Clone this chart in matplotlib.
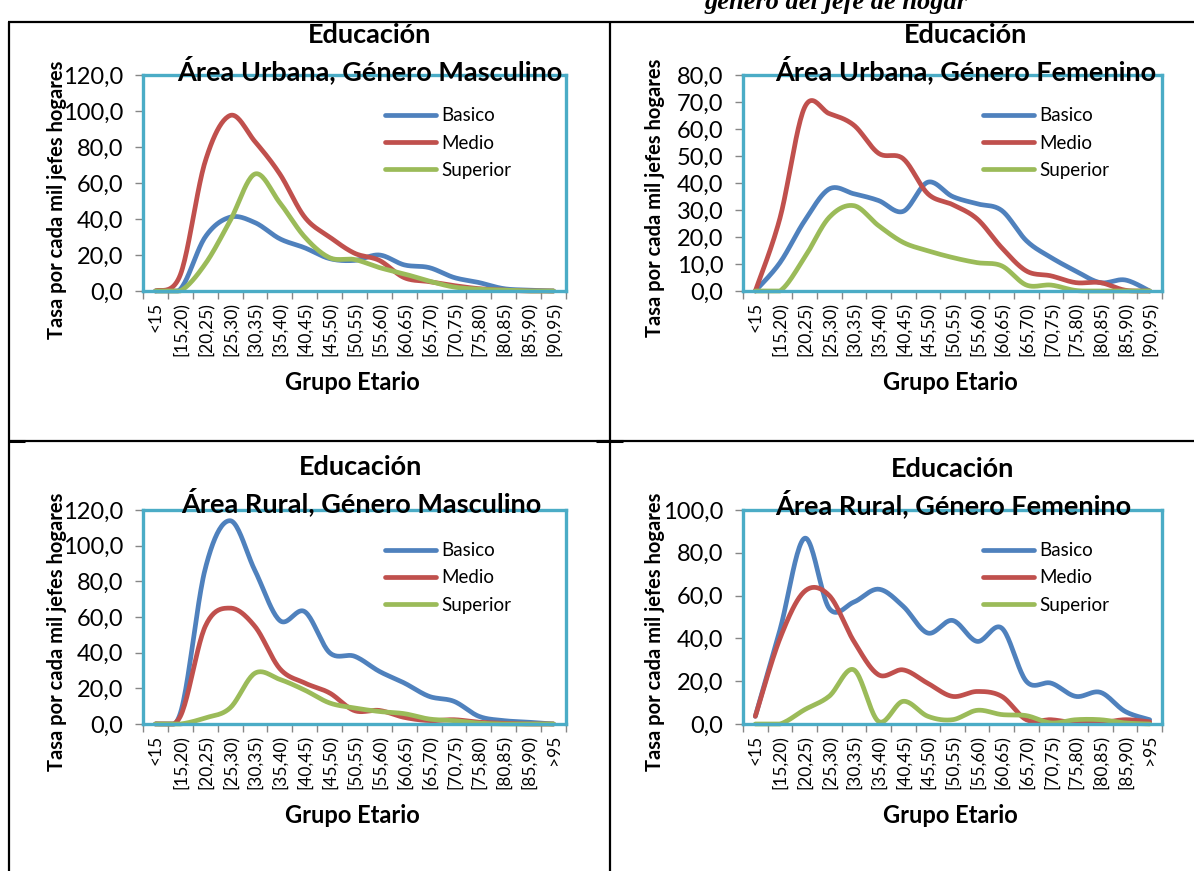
import numpy as np
import matplotlib
matplotlib.use("Agg")
import matplotlib.pyplot as plt
from matplotlib.lines import Line2D

W, H = 1194, 871

grupos_urbano = ['<15', '[15,20)', '[20,25)', '[25,30)', '[30,35)', '[35,40)',
                 '[40,45)', '[45,50)', '[50,55)', '[55,60)', '[60,65)', '[65,70)',
                 '[70,75)', '[75,80)', '[80,85)', '[85,90)', '[90,95)']
grupos_rural = grupos_urbano[:-1] + ['>95']

series_names = ['Basico', 'Medio', 'Superior']

# Urbana, masculino
um_basico = [0, 1, 30, 41, 38, 29, 24, 18, 17, 20, 14.5, 13, 7.5, 4.7, 1.3, 0.5, 0]
um_medio = [0, 9, 72, 97.5, 83, 65, 41, 30, 21, 17, 7.4, 5.2, 3, 1.3, 0.5, 0, 0]
um_superior = [0, 0, 15, 39, 65, 49, 30, 18.5, 17.5, 13, 9.5, 5.5, 2.2, 1, 0.5, 0, 0]

# Urbana, femenino
uf_basico = [0, 10.5, 26, 37.8, 36, 33.5, 29.5, 40.3, 35, 32.3, 29.8, 18.6, 12.4, 7.4, 3.1, 4.1, 0]
uf_medio = [0, 27, 68, 65.7, 61.4, 51, 49, 36, 32, 26.7, 16, 7.4, 5.6, 3.1, 3.1, 0.3, 0]
uf_superior = [0, 0, 12.4, 27.3, 31.6, 24.2, 18, 14.9, 12.4, 10.5, 9.3, 2.2, 2.2, 0.2, 0, 0, 0]

# Rural, masculino
rm_basico = [0, 6, 87, 114, 86, 58, 63, 40, 38, 29.5, 23, 15.5, 12.7, 4.3, 1.9, 1, 0]
rm_medio = [0, 4.3, 54.7, 65, 54.7, 31, 23, 17.4, 7.5, 7.6, 3.7, 1.9, 2.4, 1, 0.4, 0, 0]
rm_superior = [0, 0, 3.4, 9, 28.5, 25, 19, 11.8, 9, 7, 5.8, 2.8, 1.9, 0.5, 0, 0, 0]

# Rural, femenino
rf_basico = [3.6, 44, 86.8, 54, 57, 63, 55, 42.5, 48.4, 38.6, 44.8, 19.9, 19.1, 12.9, 14.8, 5.9, 2]
rf_medio = [3.6, 40, 62, 60, 38.6, 23, 25.3, 19, 12.9, 15.2, 12.9, 2, 2, 0.5, 0.5, 2, 1]
rf_superior = [0, 0, 6.7, 13, 25.3, 1.2, 10.6, 3.6, 2, 6.4, 4.4, 3.9, 0.5, 2, 2, 0.5, 0]

colors = ['#4F81BD', '#C0504D', '#9BBB59']
frame_color = '#4BACC6'
axis_gray = '#868686'
FONT = 'Lato'


def smooth(values, steps=24):
    """Excel-like smoothed line (Catmull-Rom as cubic Bezier)."""
    y = np.asarray(values, dtype=float)
    x = np.arange(len(y), dtype=float)
    px = np.concatenate([[x[0]], x, [x[-1]]])
    py = np.concatenate([[y[0]], y, [y[-1]]])
    t = np.linspace(0, 1, steps)[:, None]
    xs, ys = [], []
    for i in range(1, len(px) - 2):
        p0 = np.array([px[i - 1], py[i - 1]])
        p1 = np.array([px[i], py[i]])
        p2 = np.array([px[i + 1], py[i + 1]])
        p3 = np.array([px[i + 2], py[i + 2]])
        c1 = p1 + (p2 - p0) / 6
        c2 = p2 - (p3 - p1) / 6
        b = ((1 - t) ** 3) * p1 + 3 * ((1 - t) ** 2) * t * c1 \
            + 3 * (1 - t) * t ** 2 * c2 + t ** 3 * p2
        xs.append(b[:, 0])
        ys.append(b[:, 1])
    # the drawn curve does not go under the axis
    return np.concatenate(xs), np.maximum(np.concatenate(ys), 0)


def fx(x):
    return x / W


def fy(y):
    return 1 - y / H


def panel(rect, cats, data, ymax, ystep, title, title_x, title_y,
          ylab_x, ylab_y, xlab_x, xlab_y):
    left, top, right, bottom = rect
    ax = fig.add_axes([fx(left), fy(bottom), fx(right - left), (bottom - top) / H])
    for vals, col, name in zip(data, colors, series_names):
        xs, ys = smooth(vals)
        ax.plot(xs, ys, color=col, lw=3.4, solid_capstyle='round', label=name,
                clip_on=False)
    ax.set_xlim(-0.5, len(cats) - 0.5)
    ax.set_ylim(0, ymax)
    yt = np.arange(0, ymax + 0.1, ystep)
    ax.set_yticks(yt)
    ax.set_yticklabels([('%.1f' % v).replace('.', ',') for v in yt],
                       fontsize=17, family=FONT)
    ax.set_xticks(range(len(cats)))
    ax.set_xticklabels(cats, rotation=90, fontsize=12.5, family=FONT)
    ax.set_xticks(np.arange(-0.5, len(cats)), minor=True)
    ax.tick_params(axis='x', which='major', length=0, pad=8)
    ax.tick_params(axis='x', which='minor', length=6, color=axis_gray, width=1)
    ax.tick_params(axis='y', length=6, color=axis_gray, width=1, pad=8)
    for s in ax.spines.values():
        s.set_color(frame_color)
        s.set_linewidth(2.4)
    leg = ax.legend(loc='upper left', bbox_to_anchor=(0.555, 0.885), frameon=False,
                    prop={'family': FONT, 'size': 13.5}, handlelength=2.7,
                    handletextpad=0.3, labelspacing=0.55, borderaxespad=0)
    for h in leg.get_lines():
        h.set_linewidth(3.4)
    fig.text(fx(title_x), fy(title_y), 'Educación', ha='center', va='center',
             fontsize=19.5, fontweight='bold', family=FONT)
    fig.text(fx(title_x), fy(title_y + 35), title, ha='center', va='center',
             fontsize=19.5, fontweight='bold', family=FONT)
    fig.text(fx(ylab_x), fy(ylab_y), 'Tasa por cada mil jefes hogares', rotation=90,
             ha='center', va='center', fontsize=14.5, fontweight='bold', family=FONT)
    fig.text(fx(xlab_x), fy(xlab_y), 'Grupo Etario', ha='center', va='center',
             fontsize=17, fontweight='bold', family=FONT)
    return ax


fig = plt.figure(figsize=(W / 100, H / 100), dpi=100)

panel((143, 75, 566, 291), grupos_urbano, [um_basico, um_medio, um_superior],
      120, 20, 'Área Urbana, Género Masculino', 370, 35, 57, 200, 352, 382)
panel((743, 75, 1162, 291), grupos_urbano, [uf_basico, uf_medio, uf_superior],
      80, 10, 'Área Urbana, Género Femenino', 966, 35, 655, 198, 950, 382)
panel((143, 510, 566, 724), grupos_rural, [rm_basico, rm_medio, rm_superior],
      120, 20, 'Área Rural, Género Masculino', 361, 467, 57, 632, 352, 815)
panel((743, 510, 1162, 724), grupos_rural, [rf_basico, rf_medio, rf_superior],
      100, 20, 'Área Rural, Género Femenino', 953, 469, 655, 632, 950, 815)


# table borders around the four charts
def hline(y, x0, x1, lw):
    fig.add_artist(Line2D([fx(x0), fx(x1)], [fy(y), fy(y)], color='black', lw=lw,
                          zorder=10, solid_capstyle='butt'))


def vline(x, y0, y1, lw):
    fig.add_artist(Line2D([fx(x), fx(x)], [fy(y0), fy(y1)], color='black', lw=lw,
                          zorder=10, solid_capstyle='butt'))


hline(22, 8, W, 1.6)
vline(9, 22, H, 1.6)
vline(610, 22, H, 1.6)
hline(441.5, 9, W, 1.6)
hline(441.5, 596, 623, 2.2)
hline(441.5, 9, 25, 2.2)

# caption of the page, cut by the top edge as in the source
fig.text(fx(836), fy(9), 'género del jefe de hogar', ha='center', va='baseline',
         fontsize=19, fontweight='bold', style='italic', family='Liberation Serif')

fig.savefig('out.png', dpi=100)
